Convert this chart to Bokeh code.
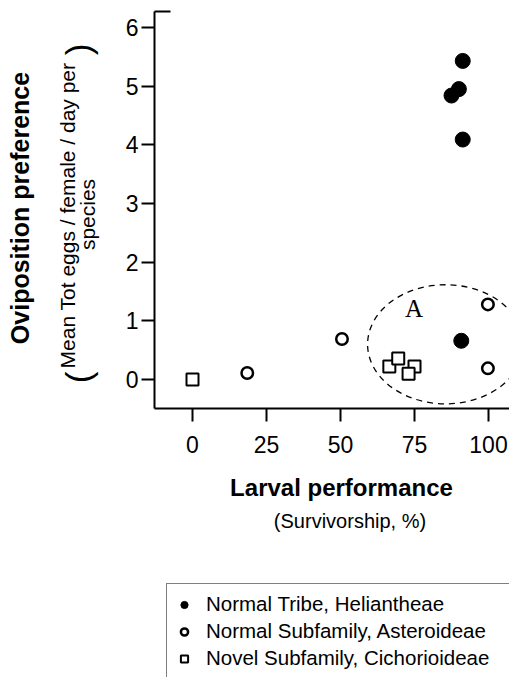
import math
from bokeh.plotting import figure
from bokeh.models import (Range1d, FixedTicker, Label, Legend, LegendItem)
from bokeh.embed import file_html
from bokeh.resources import INLINE

# ---- data ----
heli_x = [87.5, 90.0, 91.3, 91.3, 90.8]
heli_y = [4.84, 4.95, 5.43, 4.09, 0.66]
aster_x = [18.5, 50.5, 99.8, 99.8]
aster_y = [0.11, 0.69, 1.28, 0.19]
cich_x = [0.0, 66.5, 69.5, 75.0, 73.0]
cich_y = [0.0, 0.22, 0.36, 0.22, 0.10]

x_ticks = [0, 25, 50, 75, 100]
y_ticks = [0, 1, 2, 3, 4, 5, 6]

group_labels = ["Normal Tribe, Heliantheae",
                "Normal Subfamily, Asteroideae",
                "Novel Subfamily, Cichorioideae"]

# annotation ellipse "A"
ell_x = [85.5]
ell_y = [0.60]
ell_w = [52.7]
ell_h = [2.03]
a_label_x = 74.8
a_label_y = 1.21

# ---- geometry ----
W, H = 509, 677
PX_X = 2.96      # px per x unit
PX_Y = 58.67     # px per y unit
X0_PX = 192      # pixel column of x = 0
Y0_PX = 379      # pixel row of y = 0
AX_LEFT_PX, AX_BOTTOM_PX, AX_TOP_PX = 154, 408, 11

x_start, x_end = -X0_PX / PX_X, (W - X0_PX) / PX_X
y_end, y_start = Y0_PX / PX_Y, -(H - Y0_PX) / PX_Y
axis_x = (AX_LEFT_PX - X0_PX) / PX_X
axis_y_lo = -(AX_BOTTOM_PX - Y0_PX) / PX_Y
axis_y_hi = (Y0_PX - AX_TOP_PX) / PX_Y

FONT = "Liberation Sans"

p = figure(width=W, height=H, output_backend="svg", toolbar_location=None,
           x_range=Range1d(x_start, x_end), y_range=Range1d(y_start, y_end),
           min_border=0)
p.outline_line_color = None
p.grid.visible = False
p.background_fill_color = "white"
p.border_fill_color = "white"

for ax in (p.xaxis[0], p.yaxis[0]):
    ax.axis_line_width = 2
    ax.axis_line_color = "black"
    ax.major_tick_line_width = 2
    ax.major_tick_line_color = "black"
    ax.major_tick_in = 0
    ax.major_tick_out = 13
    ax.minor_tick_line_color = None
    ax.major_label_text_font = FONT
    ax.major_label_text_font_size = "23px"
    ax.major_label_text_color = "black"

p.xaxis[0].ticker = FixedTicker(ticks=x_ticks)
p.yaxis[0].ticker = FixedTicker(ticks=y_ticks)
p.xaxis[0].fixed_location = axis_y_lo
p.yaxis[0].fixed_location = axis_x
p.xaxis[0].bounds = (axis_x, x_end)
p.yaxis[0].bounds = (axis_y_lo, axis_y_hi)
p.xaxis[0].major_label_standoff = 14
p.yaxis[0].major_label_standoff = 3

# small cap at the top of the y axis
cap_len = 16 / PX_X
p.segment(x0=[axis_x], y0=[axis_y_hi], x1=[axis_x + cap_len], y1=[axis_y_hi],
          line_color="black", line_width=2)

# dashed ellipse
p.ellipse(x=ell_x, y=ell_y, width=ell_w, height=ell_h, fill_color=None,
          line_color="black", line_width=1.3, line_dash="6 5")

r_sq = p.scatter(cich_x, cich_y, marker="square", size=12, fill_color="white",
                 line_color="black", line_width=2)
r_oc = p.scatter(aster_x, aster_y, marker="circle", size=11.5, fill_color="white",
                 line_color="black", line_width=2.5)
r_fc = p.scatter(heli_x, heli_y, marker="circle", size=15, fill_color="black",
                 line_color="black", line_width=1)

p.add_layout(Label(x=a_label_x, y=a_label_y, text="A", text_font="Liberation Serif",
                   text_font_size="25px", text_align="center", text_baseline="middle",
                   text_color="black"))


def screen_label(px, py, text, size, bold=False, angle=0.0):
    return Label(x=px, y=H - py, x_units="screen", y_units="screen", text=text,
                 angle=angle, text_font=FONT, text_font_size=size,
                 text_font_style="bold" if bold else "normal",
                 text_align="center", text_baseline="alphabetic", text_color="black")


V = math.pi / 2
p.add_layout(screen_label(19, 207.5, "Oviposition preference", "25px", True, V))
p.add_layout(screen_label(67, 215, "Mean Tot eggs / female / day per", "21px", False, V))
p.add_layout(screen_label(87, 214, "species", "21px", False, V))
p.add_layout(screen_label(78, 377, "(", "35px", False, V))
p.add_layout(screen_label(78, 49, ")", "35px", False, V))
p.add_layout(screen_label(341, 487, "Larval performance", "24px", True))
p.add_layout(screen_label(349.5, 520, "(Survivorship, %)", "20px"))

legend = Legend(items=[LegendItem(label=group_labels[0], renderers=[r_fc]),
                       LegendItem(label=group_labels[1], renderers=[r_oc]),
                       LegendItem(label=group_labels[2], renderers=[r_sq])],
                location=(166, -2))
legend.border_line_color = "black"
legend.border_line_width = 1.5
legend.background_fill_color = "white"
legend.background_fill_alpha = 1
legend.label_text_font = FONT
legend.label_text_font_size = "20.5px"
legend.label_text_color = "black"
legend.glyph_width = 18
legend.glyph_height = 21
legend.label_height = 21
legend.label_standoff = 13
legend.padding = 8
legend.spacing = 3
legend.margin = 0
legend.label_width = 330
p.add_layout(legend)

open("out.html", "w").write(file_html(p, INLINE))
